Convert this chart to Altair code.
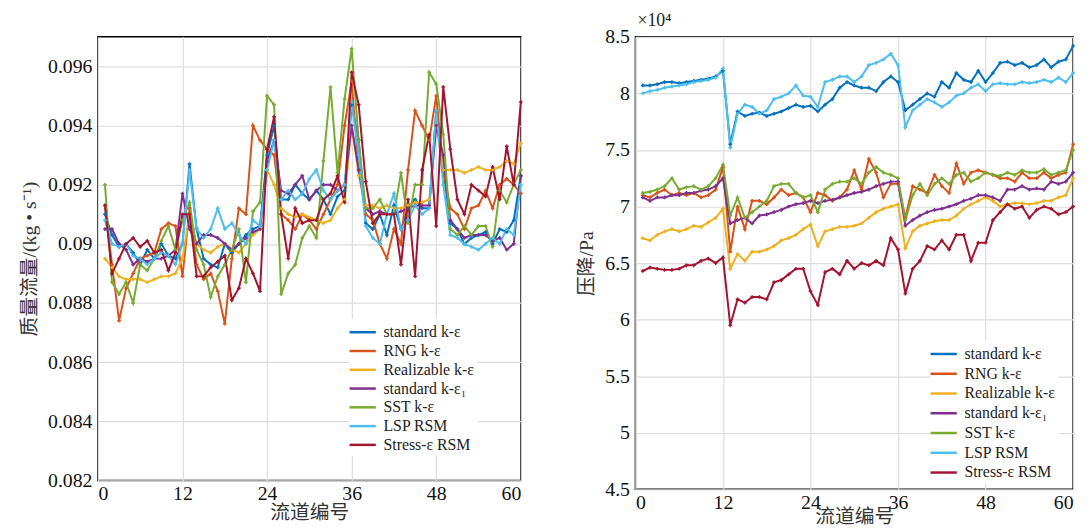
import altair as alt
import pandas as pd

channels = list(range(1, 61))
models = ["standard k-ε", "RNG k-ε", "Realizable k-ε", "standard k-ε₁", "SST k-ε", "LSP RSM", "Stress-ε RSM"]
colors = ["#0072BD", "#D95319", "#EDB120", "#7E2F8E", "#77AC30", "#4DBEEE", "#A2142F"]

# ---- left panel: mass flow (kg/s)
mf_std = [0.0910, 0.0903, 0.0899, 0.0900, 0.0897, 0.0893, 0.0898, 0.0895, 0.0900, 0.0896, 0.0895, 0.0900,
          0.0927, 0.0905, 0.0895, 0.0893, 0.0892, 0.0900, 0.0897, 0.0900, 0.0903, 0.0905, 0.0906, 0.0930,
          0.0940, 0.0915, 0.0915, 0.0920, 0.0917, 0.0915, 0.0918, 0.0915, 0.0910, 0.0916, 0.0918, 0.0947,
          0.0935, 0.0907, 0.0905, 0.0910, 0.0903, 0.0913, 0.0905, 0.0912, 0.0915, 0.0912, 0.0912, 0.0945,
          0.0925, 0.0907, 0.0905, 0.0900, 0.0902, 0.0903, 0.0904, 0.0900, 0.0905, 0.0904, 0.0908, 0.0923]
mf_rng = [0.0913, 0.0893, 0.0874, 0.0885, 0.0890, 0.0895, 0.0896, 0.0897, 0.0905, 0.0907, 0.0906, 0.0889,
          0.0912, 0.0893, 0.0888, 0.0890, 0.0884, 0.0873, 0.0895, 0.0912, 0.0910, 0.0940, 0.0935, 0.0932,
          0.0930, 0.0910, 0.0908, 0.0905, 0.0910, 0.0908, 0.0905, 0.0910, 0.0915, 0.0920, 0.0940, 0.0955,
          0.0925, 0.0910, 0.0908, 0.0900, 0.0895, 0.0905, 0.0900, 0.0925, 0.0945, 0.0940, 0.0935, 0.0950,
          0.0925, 0.0912, 0.0910, 0.0905, 0.0912, 0.0913, 0.0918, 0.0912, 0.0920, 0.0922, 0.0920, 0.0917]
mf_real = [0.0895, 0.0892, 0.0889, 0.0888, 0.0888, 0.0888, 0.0887, 0.0888, 0.0889, 0.0889, 0.0890, 0.0895,
           0.0910, 0.0900, 0.0898, 0.0897, 0.0899, 0.0900, 0.0898, 0.0897, 0.0900, 0.0903, 0.0905, 0.0925,
           0.0920, 0.0912, 0.0910, 0.0909, 0.0910, 0.0909, 0.0908, 0.0907, 0.0908, 0.0912, 0.0915, 0.0940,
           0.0923, 0.0913, 0.0913, 0.0912, 0.0913, 0.0912, 0.0912, 0.0913, 0.0914, 0.0914, 0.0915, 0.0940,
           0.0925, 0.0925, 0.0925, 0.0924, 0.0925, 0.0926, 0.0925, 0.0925, 0.0926, 0.0928, 0.0927, 0.0934]
mf_kw = [0.0905, 0.0905, 0.0900, 0.0898, 0.0893, 0.0895, 0.0894, 0.0895, 0.0895, 0.0896, 0.0898, 0.0917,
         0.0905, 0.0900, 0.0903, 0.0903, 0.0902, 0.0900, 0.0898, 0.0900, 0.0902, 0.0904, 0.0905, 0.0928,
         0.0935, 0.0918, 0.0917, 0.0920, 0.0923, 0.0915, 0.0918, 0.0920, 0.0920, 0.0918, 0.0920, 0.0940,
         0.0925, 0.0912, 0.0910, 0.0911, 0.0910, 0.0910, 0.0911, 0.0912, 0.0913, 0.0913, 0.0913, 0.0940,
         0.0930, 0.0908, 0.0905, 0.0902, 0.0903, 0.0903, 0.0903, 0.0901, 0.0902, 0.0898, 0.0900, 0.0923]
mf_sst = [0.0920, 0.0887, 0.0883, 0.0887, 0.0880, 0.0893, 0.0891, 0.0895, 0.0901, 0.0906, 0.0898, 0.0908,
          0.0914, 0.0898, 0.0893, 0.0882, 0.0889, 0.0893, 0.0898, 0.0905, 0.0887, 0.0911, 0.0914, 0.0950,
          0.0947, 0.0883, 0.0890, 0.0893, 0.0902, 0.0906, 0.0902, 0.0928, 0.0953, 0.0924, 0.0949, 0.0966,
          0.0935, 0.0912, 0.0912, 0.0915, 0.0910, 0.0910, 0.0924, 0.0907, 0.0920, 0.0920, 0.0958, 0.0954,
          0.0937, 0.0905, 0.0903, 0.0906, 0.0903, 0.0906, 0.0906, 0.0899, 0.0918, 0.0914, 0.0920, 0.0925]
mf_lsp = [0.0908, 0.0900, 0.0899, 0.0900, 0.0896, 0.0895, 0.0893, 0.0895, 0.0897, 0.0896, 0.0893, 0.0900,
          0.0925, 0.0905, 0.0902, 0.0905, 0.0912, 0.0905, 0.0907, 0.0903, 0.0900, 0.0908, 0.0906, 0.0925,
          0.0935, 0.0915, 0.0918, 0.0915, 0.0917, 0.0922, 0.0925, 0.0918, 0.0915, 0.0918, 0.0920, 0.0948,
          0.0930, 0.0906, 0.0902, 0.0900, 0.0910, 0.0917, 0.0905, 0.0908, 0.0913, 0.0910, 0.0912, 0.0945,
          0.0920, 0.0903, 0.0902, 0.0900, 0.0899, 0.0898, 0.0900, 0.0902, 0.0900, 0.0905, 0.0903, 0.0920]
mf_stress = [0.0913, 0.0890, 0.0895, 0.0900, 0.0902, 0.0899, 0.0901, 0.0897, 0.0898, 0.0891, 0.0897, 0.0910,
             0.0910, 0.0889, 0.0889, 0.0892, 0.0894, 0.0896, 0.0881, 0.0885, 0.0895, 0.0890, 0.0884, 0.0932,
             0.0943, 0.0910, 0.0895, 0.0912, 0.0907, 0.0908, 0.0908, 0.0915, 0.0917, 0.0923, 0.0914, 0.0958,
             0.0947, 0.0921, 0.0907, 0.0910, 0.0910, 0.0910, 0.0893, 0.0915, 0.0889, 0.0925, 0.0937, 0.0906,
             0.0953, 0.0932, 0.0915, 0.0910, 0.0920, 0.0918, 0.0916, 0.0926, 0.0915, 0.0933, 0.0920, 0.0948]

# ---- right panel: pressure drop (x 10^4 Pa)
dp_std = [8.07, 8.07, 8.08, 8.10, 8.10, 8.09, 8.10, 8.11, 8.12, 8.13, 8.15, 8.20,
          7.55, 7.84, 7.80, 7.82, 7.83, 7.80, 7.82, 7.84, 7.87, 7.90, 7.88, 7.89,
          7.84, 7.90, 7.95, 8.05, 8.10, 8.07, 8.05, 8.05, 8.02, 8.10, 8.15, 8.10,
          7.85, 7.90, 7.95, 8.00, 7.97, 8.10, 8.05, 8.18, 8.12, 8.10, 8.20, 8.10,
          8.18, 8.27, 8.28, 8.25, 8.27, 8.23, 8.25, 8.30, 8.23, 8.28, 8.30, 8.42]
dp_rng = [7.10, 7.08, 7.12, 7.15, 7.10, 7.12, 7.10, 7.12, 7.08, 7.10, 7.15, 7.35,
          6.60, 7.00, 6.80, 7.05, 7.05, 7.02, 7.08, 7.15, 7.10, 7.12, 7.08, 6.95,
          7.12, 7.10, 7.05, 7.08, 7.15, 7.32, 7.15, 7.42, 7.30, 7.08, 7.20, 7.20,
          6.90, 7.18, 7.15, 7.12, 7.28, 7.18, 7.12, 7.38, 7.20, 7.30, 7.32, 7.30,
          7.28, 7.25, 7.25, 7.22, 7.30, 7.25, 7.25, 7.30, 7.25, 7.28, 7.30, 7.55]
dp_real = [6.72, 6.70, 6.75, 6.78, 6.80, 6.78, 6.80, 6.83, 6.82, 6.86, 6.90, 6.98,
           6.45, 6.58, 6.52, 6.60, 6.60, 6.62, 6.65, 6.70, 6.72, 6.75, 6.80, 6.84,
           6.65, 6.78, 6.80, 6.82, 6.82, 6.83, 6.85, 6.90, 6.95, 6.98, 7.00, 7.02,
           6.63, 6.78, 6.83, 6.85, 6.87, 6.88, 6.88, 6.92, 6.98, 7.02, 7.05, 7.08,
           7.05, 7.00, 7.02, 7.03, 7.03, 7.02, 7.03, 7.05, 7.05, 7.08, 7.10, 7.25]
dp_kw = [7.08, 7.05, 7.08, 7.08, 7.10, 7.10, 7.12, 7.12, 7.14, 7.15, 7.18, 7.25,
         6.85, 6.88, 6.90, 6.85, 6.92, 6.93, 6.95, 6.97, 7.00, 7.02, 7.03, 7.05,
         7.03, 7.05, 7.06, 7.08, 7.10, 7.12, 7.13, 7.15, 7.18, 7.20, 7.22, 7.22,
         6.83, 6.88, 6.92, 6.95, 6.97, 6.98, 7.00, 7.02, 7.05, 7.07, 7.10, 7.10,
         7.08, 7.05, 7.15, 7.15, 7.18, 7.15, 7.16, 7.15, 7.22, 7.20, 7.22, 7.30]
dp_sst = [7.12, 7.13, 7.15, 7.18, 7.25, 7.15, 7.17, 7.18, 7.15, 7.18, 7.25, 7.37,
          6.92, 7.08, 6.90, 6.95, 7.00, 7.05, 7.18, 7.20, 7.20, 7.12, 7.08, 7.10,
          6.95, 7.15, 7.20, 7.22, 7.22, 7.25, 7.20, 7.30, 7.35, 7.30, 7.28, 7.25,
          6.88, 7.10, 7.20, 7.10, 7.20, 7.25, 7.20, 7.28, 7.30, 7.22, 7.25, 7.30,
          7.28, 7.27, 7.30, 7.28, 7.32, 7.30, 7.30, 7.33, 7.28, 7.30, 7.32, 7.50]
dp_lsp = [8.00, 8.02, 8.03, 8.05, 8.06, 8.07, 8.08, 8.10, 8.11, 8.12, 8.14, 8.22,
          7.52, 7.82, 7.90, 7.88, 7.82, 7.85, 7.95, 7.97, 8.00, 8.07, 7.98, 7.97,
          7.88, 8.10, 8.12, 8.15, 8.15, 8.10, 8.15, 8.25, 8.27, 8.30, 8.35, 8.25,
          7.70, 7.85, 7.90, 7.95, 7.92, 7.88, 7.92, 7.98, 8.00, 8.05, 8.08, 8.02,
          8.08, 8.09, 8.08, 8.08, 8.10, 8.09, 8.10, 8.12, 8.10, 8.14, 8.10, 8.18]
dp_stress = [6.43, 6.46, 6.45, 6.44, 6.44, 6.45, 6.48, 6.48, 6.52, 6.54, 6.50, 6.55,
             5.95, 6.18, 6.15, 6.20, 6.20, 6.18, 6.33, 6.35, 6.40, 6.45, 6.45, 6.25,
             6.13, 6.42, 6.45, 6.40, 6.52, 6.45, 6.50, 6.48, 6.52, 6.48, 6.72, 6.62,
             6.23, 6.45, 6.52, 6.65, 6.62, 6.70, 6.62, 6.75, 6.75, 6.52, 6.68, 6.68,
             6.88, 6.95, 7.02, 6.98, 7.00, 6.90, 6.97, 7.00, 6.98, 6.93, 6.95, 7.00]

x_ticks = [0, 12, 24, 36, 48, 60]
mf_ticks = [0.082, 0.084, 0.086, 0.088, 0.090, 0.092, 0.094, 0.096]
dp_ticks = [4.5, 5.0, 5.5, 6.0, 6.5, 7.0, 7.5, 8.0, 8.5]


def long_df(series_list, col):
    rows = []
    for m, s in zip(models, series_list):
        for c, v in zip(channels, s):
            rows.append({"channel": c, col: v, "model": m})
    return pd.DataFrame(rows)


df_mf = long_df([mf_std, mf_rng, mf_real, mf_kw, mf_sst, mf_lsp, mf_stress], "mf")
df_dp = long_df([dp_std, dp_rng, dp_real, dp_kw, dp_sst, dp_lsp, dp_stress], "dp")

SERIF = "Liberation Serif, Noto Sans CJK SC"


def panel(df, col, ytitle, ydomain, yticks, w, h, lx, ly, rowpad, title_text, xtitlepad):
    x = alt.X("channel:Q", title="流道编号",
              scale=alt.Scale(domain=[0, 60], nice=False),
              axis=alt.Axis(values=x_ticks, titlePadding=xtitlepad, labelPadding=3))
    y = alt.Y(f"{col}:Q", title=ytitle,
              scale=alt.Scale(domain=ydomain, nice=False, zero=False),
              axis=alt.Axis(values=yticks, format="~g", labelPadding=6))
    c = alt.Color("model:N", scale=alt.Scale(domain=models, range=colors), sort=models,
                  legend=alt.Legend(title=None, orient="none", legendX=lx, legendY=ly,
                                    symbolType="M-1.4,0L1.4,0", symbolStrokeWidth=2.5,
                                    symbolSize=360, labelFont=SERIF, labelFontSize=16,
                                    labelColor="#222", rowPadding=rowpad, fillColor="white",
                                    padding=3, labelOffset=10))
    line = alt.Chart(df).mark_line(
        strokeWidth=2,
        point=alt.OverlayMarkDef(shape="cross", size=14, filled=True),
    ).encode(x=x, y=y, color=c, order="channel:Q")
    return line.properties(
        width=w, height=h,
        title=alt.TitleParams(title_text, anchor="start", frame="group", fontSize=18,
                              font=SERIF, fontWeight="normal", color="#222", offset=-3, dx=2),
    )


left = panel(df_mf, "mf", "质量流量/(kg • s⁻¹)", [0.082, 0.097], mf_ticks, 428, 449, 254, 285, 0, " ", 0)
right = panel(df_dp, "dp", "压降/Pa", [4.5, 8.5], dp_ticks, 443, 458, 298, 307, 1, "×10⁴", -5)

chart = alt.hconcat(left, right, spacing=51).resolve_scale(
    color="independent"
).resolve_legend(color="independent").configure(
    background="white",
    padding={"left": 11, "top": 0, "right": 5, "bottom": 0},
).configure_view(
    stroke="black", strokeWidth=1.5
).configure_axis(
    labelFont=SERIF, labelFontSize=20, labelColor="#111",
    titleFont=SERIF, titleFontSize=20, titleColor="#333", titleFontWeight="normal",
    grid=True, gridColor="#dcdcdc", gridWidth=1.2,
    domain=False, ticks=False,
).configure_axisY(titlePadding=8)

chart.save("out.html", embed_options={"renderer": "svg", "actions": False})
